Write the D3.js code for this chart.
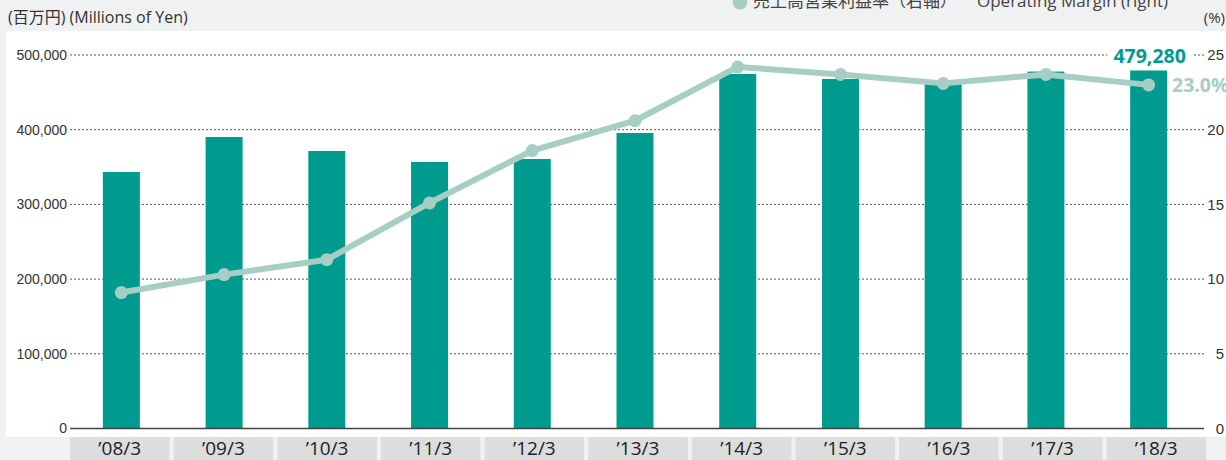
<!DOCTYPE html>
<html>
<head>
<meta charset="utf-8">
<script src="https://cdn.jsdelivr.net/npm/d3@7"></script>
<style>
	html, body { margin: 0; padding: 0; background: #f0f1f1; }
	svg { display: block; font-family: "Open Sans", "Noto Sans", "Noto Sans CJK JP", sans-serif; }
</style>
</head>
<body>
<div id="chart"></div>
<script>
const categories = ['’08/3', '’09/3', '’10/3', '’11/3', '’12/3', '’13/3', '’14/3', '’15/3', '’16/3', '’17/3', '’18/3'];
// 売上高 (millions of yen), left axis
const netSales = [343400, 390200, 371500, 356800, 360800, 395600, 474600, 467900, 462500, 477800, 479280];
// 売上高営業利益率 (%), right axis
const operatingMargin = [9.1, 10.3, 11.3, 15.1, 18.6, 20.6, 24.2, 23.7, 23.1, 23.7, 23.0];
const leftTicks = [0, 100000, 200000, 300000, 400000, 500000];
const rightTicks = [0, 5, 10, 15, 20, 25];

const BAR = '#009b8f';
const LINE = '#a7cec4';

class MarginChart {
	/**
	 * @param {string} mount - root element for the svg
	 * @param {Object} config
	 * @param {number} config.width
	 * @param {number} config.height
	 */
	constructor(mount, {width, height}) {
		this.mount = mount;
		this.width = width;
		this.height = height;
		this.top = 55;
		this.bottom = 428.5;
		this.left = 70;
		this.right = 1204;
		this.svg = null;
	}

	get scaleX() {
		// bar centres sit on a slightly narrower band than the label boxes
		return d3.scaleBand().domain(categories).range([this.left, 1200]).padding(0);
	}

	get scaleBox() {
		return d3.scaleBand().domain(categories).range([this.left, 1206]).paddingInner(0.04).paddingOuter(0);
	}

	get scaleY() {
		return d3.scaleLinear().domain([0, 500000]).range([this.bottom, this.top]);
	}

	get scaleY2() {
		return d3.scaleLinear().domain([0, 25]).range([this.bottom, this.top]);
	}

	initChart() {
		this.svg = d3.select(this.mount).append('svg')
			.attr('width', this.width)
			.attr('height', this.height);
		this.svg.append('rect')
			.attr('width', this.width).attr('height', this.height)
			.attr('fill', '#f0f1f1');
		this.svg.append('rect')
			.attr('x', 6).attr('y', 31)
			.attr('width', this.width - 6).attr('height', 406)
			.attr('fill', '#fff');
		return this;
	}

	_drawHeader() {
		const svg = this.svg;
		svg.append('text')
			.attr('x', 8).attr('y', 23)
			.attr('font-size', 16).attr('fill', '#333')
			.text('(百万円) (Millions of Yen)');
		svg.append('text')
			.attr('x', 1225).attr('y', 23)
			.attr('text-anchor', 'end')
			.attr('font-size', 15).attr('fill', '#333')
			.text('(%)');

		// legend is clipped by the top edge in the original
		const legend = svg.append('g');
		legend.append('circle')
			.attr('cx', 740).attr('cy', 2).attr('r', 7.5)
			.attr('fill', LINE);
		legend.append('text')
			.attr('x', 753).attr('y', 7)
			.attr('font-size', 17).attr('fill', '#444')
			.text('売上高営業利益率（右軸）');
		legend.append('text')
			.attr('x', 977).attr('y', 7)
			.attr('font-size', 17).attr('fill', '#444')
			.text('Operating Margin (right)');
	}

	_drawAxes() {
		const y = this.scaleY;
		const y2 = this.scaleY2;

		this.svg.append('g')
			.selectAll('line')
			.data(leftTicks.filter(d => d > 0))
			.join('line')
			.attr('x1', this.left).attr('x2', this.right)
			.attr('y1', d => y(d)).attr('y2', d => y(d))
			.attr('stroke', '#555')
			.attr('stroke-width', 1)
			.attr('stroke-dasharray', '2,2');

		const axisLeft = d3.axisLeft(y)
			.tickValues(leftTicks)
			.tickSize(0)
			.tickPadding(3)
			.tickFormat(d3.format(','));
		this.svg.append('g')
			.classed('axis y-axis', true)
			.attr('transform', `translate(${this.left},0)`)
			.call(axisLeft)
			.call(g => g.select('.domain').remove())
			.call(g => g.selectAll('text')
				.attr('font-size', 14)
				.attr('font-family', null)
				.attr('fill', '#333'));

		const axisRight = d3.axisRight(y2)
			.tickValues(rightTicks)
			.tickSize(0)
			.tickPadding(0);
		this.svg.append('g')
			.classed('axis y2-axis', true)
			.attr('transform', 'translate(1224,0)')
			.call(axisRight)
			.call(g => g.select('.domain').remove())
			.call(g => g.selectAll('text')
				.attr('text-anchor', 'end')
				.attr('font-size', 15)
				.attr('font-family', null)
				.attr('fill', '#333'));
	}

	_drawCategories() {
		const box = this.scaleBox;
		const g = this.svg.append('g').classed('x-axis', true);
		g.selectAll('rect')
			.data(categories)
			.join('rect')
			.attr('x', d => box(d))
			.attr('y', 437)
			.attr('width', box.bandwidth())
			.attr('height', 30)
			.attr('fill', '#dcdddd');
		g.selectAll('text')
			.data(categories)
			.join('text')
			.attr('x', d => box(d) + box.bandwidth() / 2)
			.attr('y', 455)
			.attr('text-anchor', 'middle')
			.attr('font-size', 19)
			.attr('fill', '#222')
			.text(d => d);
	}

	_drawBars() {
		const x = this.scaleX;
		const y = this.scaleY;
		const bw = 37;
		this.svg.append('g')
			.selectAll('rect')
			.data(netSales)
			.join('rect')
			.attr('x', (d, i) => x(categories[i]) + x.bandwidth() / 2 - bw / 2)
			.attr('y', d => y(d))
			.attr('width', bw)
			.attr('height', d => y(0) - y(d))
			.attr('fill', BAR);

		this.svg.append('line')
			.attr('x1', this.left).attr('x2', this.right)
			.attr('y1', y(0)).attr('y2', y(0))
			.attr('stroke', '#444')
			.attr('stroke-width', 1.5);
	}

	_drawLine() {
		const x = this.scaleX;
		const y2 = this.scaleY2;
		const cx = (d, i) => x(categories[i]) + x.bandwidth() / 2;
		const line = d3.line()
			.x(cx)
			.y(d => y2(d));
		this.svg.append('path')
			.datum(operatingMargin)
			.attr('d', line)
			.attr('fill', 'none')
			.attr('stroke', LINE)
			.attr('stroke-width', 6)
			.attr('stroke-linejoin', 'round');
		this.svg.append('g')
			.selectAll('circle')
			.data(operatingMargin)
			.join('circle')
			.attr('cx', cx)
			.attr('cy', d => y2(d))
			.attr('r', 6.5)
			.attr('fill', LINE);
	}

	_drawLabels() {
		const x = this.scaleX;
		const y = this.scaleY;
		const y2 = this.scaleY2;
		const last = categories.length - 1;
		const cx = x(categories[last]) + x.bandwidth() / 2;
		const value = this.svg.append('text')
			.attr('x', cx + 1)
			.attr('y', y(netSales[last]) - 7)
			.attr('text-anchor', 'middle')
			.attr('font-size', 19.5)
			.attr('font-weight', 700)
			.attr('fill', BAR)
			.text(d3.format(',')(netSales[last]));
		// knock the dotted gridline out behind the value label
		const box = value.node().getBBox();
		this.svg.insert('rect', () => value.node())
			.attr('x', box.x - 6)
			.attr('y', box.y + 2)
			.attr('width', box.width + 12)
			.attr('height', box.height - 6)
			.attr('fill', '#fff');
		this.svg.append('text')
			.attr('x', 1172)
			.attr('y', y2(operatingMargin[last]) + 7)
			.attr('font-size', 19.5)
			.attr('font-weight', 700)
			.attr('fill', LINE)
			.text(d3.format('.1f')(operatingMargin[last]) + '%');
	}

	drawChart() {
		this._drawHeader();
		this._drawAxes();
		this._drawBars();
		this._drawLine();
		this._drawLabels();
		this._drawCategories();
		return this;
	}
}

new MarginChart('#chart', {width: 1226, height: 460})
	.initChart()
	.drawChart();
</script>
</body>
</html>
